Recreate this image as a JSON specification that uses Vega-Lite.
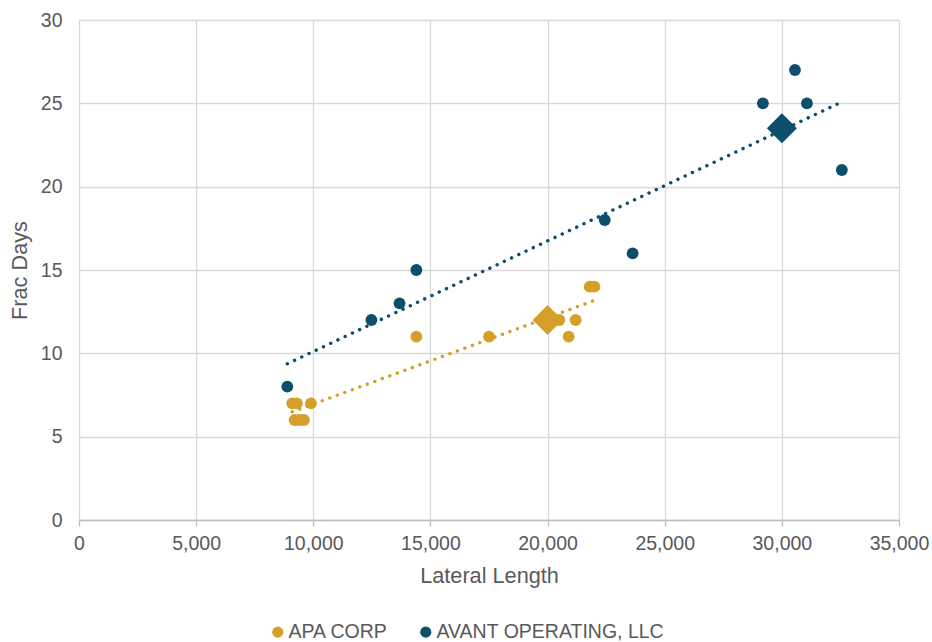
{
  "$schema": "https://vega.github.io/schema/vega-lite/v6.json",
  "autosize": "none",
  "width": 820,
  "height": 500,
  "padding": {"left": 79, "top": 20, "right": 33, "bottom": 122},
  "background": "white",
  "config": {
    "view": {"stroke": null},
    "font": "Liberation Sans",
    "axis": {
      "labelFont": "Liberation Sans",
      "titleFont": "Liberation Sans",
      "labelColor": "#595959",
      "titleColor": "#595959",
      "labelFontSize": 19.5,
      "titleFontSize": 21.7,
      "titleFontWeight": "normal",
      "gridColor": "#D9D9D9",
      "gridWidth": 1.3,
      "labelFlush": false,
      "labelOverlap": false
    },
    "legend": {
      "labelFont": "Liberation Sans",
      "labelColor": "#595959",
      "labelFontSize": 19.5,
      "labelLimit": 500
    }
  },
  "datasets": {
    "wells": [
      {"company": "APA CORP", "lateral": 9100, "frac_days": 7},
      {"company": "APA CORP", "lateral": 9300, "frac_days": 7},
      {"company": "APA CORP", "lateral": 9900, "frac_days": 7},
      {"company": "APA CORP", "lateral": 9200, "frac_days": 6},
      {"company": "APA CORP", "lateral": 9400, "frac_days": 6},
      {"company": "APA CORP", "lateral": 9600, "frac_days": 6},
      {"company": "APA CORP", "lateral": 14400, "frac_days": 11},
      {"company": "APA CORP", "lateral": 17500, "frac_days": 11},
      {"company": "APA CORP", "lateral": 20500, "frac_days": 12},
      {"company": "APA CORP", "lateral": 21200, "frac_days": 12},
      {"company": "APA CORP", "lateral": 20900, "frac_days": 11},
      {"company": "APA CORP", "lateral": 21800, "frac_days": 14},
      {"company": "APA CORP", "lateral": 22000, "frac_days": 14},
      {"company": "AVANT OPERATING, LLC", "lateral": 8890, "frac_days": 8},
      {"company": "AVANT OPERATING, LLC", "lateral": 12480, "frac_days": 12},
      {"company": "AVANT OPERATING, LLC", "lateral": 13680, "frac_days": 13},
      {"company": "AVANT OPERATING, LLC", "lateral": 14400, "frac_days": 15},
      {"company": "AVANT OPERATING, LLC", "lateral": 22440, "frac_days": 18},
      {"company": "AVANT OPERATING, LLC", "lateral": 23630, "frac_days": 16},
      {"company": "AVANT OPERATING, LLC", "lateral": 29190, "frac_days": 25},
      {"company": "AVANT OPERATING, LLC", "lateral": 30560, "frac_days": 27},
      {"company": "AVANT OPERATING, LLC", "lateral": 31070, "frac_days": 25},
      {"company": "AVANT OPERATING, LLC", "lateral": 32560, "frac_days": 21}
    ],
    "highlight": [
      {"company": "APA CORP", "lateral": 20000, "frac_days": 12},
      {"company": "AVANT OPERATING, LLC", "lateral": 30000, "frac_days": 23.5}
    ]
  },
  "encoding": {
    "x": {
      "field": "lateral",
      "type": "quantitative",
      "title": "Lateral Length",
      "scale": {"domain": [0, 35000], "nice": false},
      "axis": {
        "values": [0, 5000, 10000, 15000, 20000, 25000, 30000, 35000],
        "format": ",.0f",
        "domain": true,
        "domainColor": "#BFBFBF",
        "domainWidth": 1.3,
        "tickColor": "#BFBFBF",
        "tickSize": 6,
        "tickWidth": 1.3,
        "labelPadding": 8,
        "titlePadding": 13
      }
    },
    "y": {
      "field": "frac_days",
      "type": "quantitative",
      "title": "Frac Days",
      "scale": {"domain": [0, 30], "nice": false},
      "axis": {
        "values": [0, 5, 10, 15, 20, 25, 30],
        "domain": false,
        "ticks": false,
        "labelPadding": 17,
        "titlePadding": 9
      }
    },
    "color": {
      "field": "company",
      "type": "nominal",
      "scale": {
        "domain": ["APA CORP", "AVANT OPERATING, LLC"],
        "range": ["#D4A02A", "#0B4F6C"]
      },
      "legend": {
        "title": null,
        "orient": "none",
        "direction": "horizontal",
        "legendX": 189,
        "legendY": 602,
        "padding": 0,
        "offset": 0,
        "symbolType": "circle",
        "symbolSize": 125,
        "symbolOpacity": 1,
        "symbolFillColor": null,
        "symbolStrokeWidth": 0,
        "labelOffset": 1,
        "columnPadding": 28
      }
    }
  },
  "layer": [
    {
      "data": {"name": "wells"},
      "transform": [
        {"regression": "frac_days", "on": "lateral", "groupby": ["company"]}
      ],
      "mark": {"type": "line", "strokeWidth": 3.4, "strokeDash": [0.1, 7.9], "strokeCap": "round"}
    },
    {
      "data": {"name": "wells"},
      "mark": {"type": "point", "shape": "circle", "filled": true, "opacity": 1, "size": 140}
    },
    {
      "data": {"name": "highlight"},
      "mark": {"type": "point", "shape": "diamond", "filled": true, "opacity": 1, "size": 900}
    }
  ]
}
